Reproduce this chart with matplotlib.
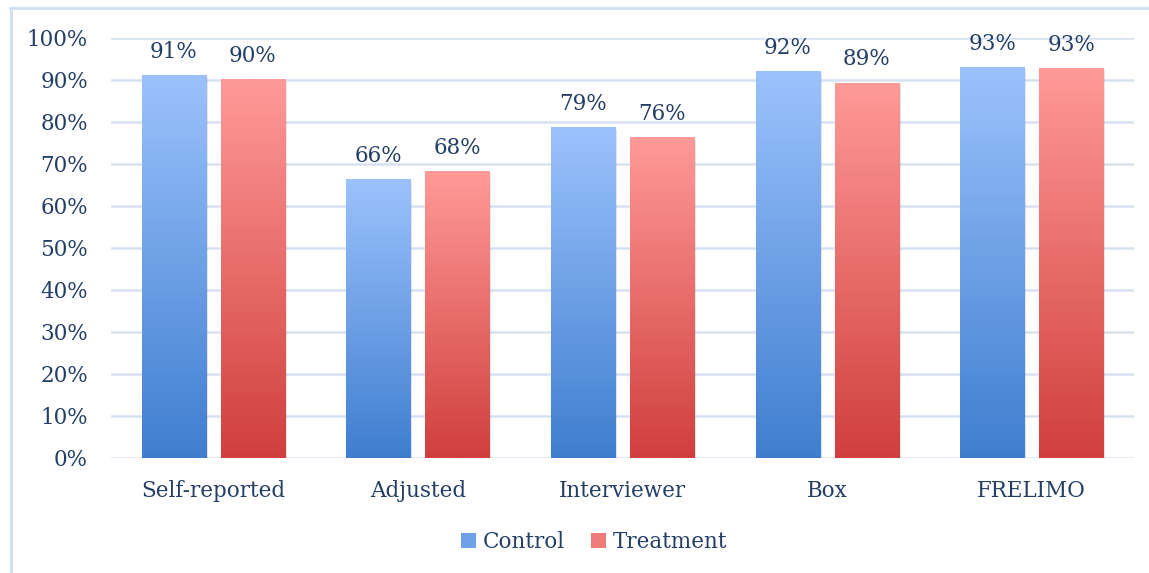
import numpy as np
import matplotlib.pyplot as plt
from matplotlib.patches import Rectangle, Patch
from matplotlib.lines import Line2D
from matplotlib.colors import LinearSegmentedColormap

plt.rcParams["font.family"] = "DejaVu Serif"

categories = ["Self-reported", "Adjusted", "Interviewer", "Box", "FRELIMO"]
control = [91.2, 66.4, 78.8, 92.1, 93.1]
treatment = [90.2, 68.3, 76.4, 89.4, 92.9]
yticks = list(range(0, 101, 10))

txt_color = "#243F66"
blue_cmap = LinearSegmentedColormap.from_list("b", ["#3F7ECF", "#9CC2FD"])
red_cmap = LinearSegmentedColormap.from_list("r", ["#D03F3D", "#FF9A98"])

fig = plt.figure(figsize=(11.49, 5.73), dpi=100)
ax = fig.add_axes([0.0966, 0.2007, 0.8904, 0.733])

x = np.arange(len(categories))
bw = 0.313
gap = 0.073
grad = np.linspace(0, 1, 256).reshape(-1, 1)


def grad_bar(xc, h, cmap):
    x0 = xc - bw / 2
    # soft shadow
    ax.add_patch(Rectangle((x0 + 0.010, -0.6), bw, h, color="#000000",
                           alpha=0.10, lw=0, zorder=2))
    im = ax.imshow(grad, cmap=cmap, aspect="auto", origin="lower",
                   extent=(x0, x0 + bw, 0, h), zorder=3)
    rect = Rectangle((x0, 0), bw, h, transform=ax.transData)
    im.set_clip_path(rect)


for i in range(len(categories)):
    xc = x[i] - bw / 2 - gap / 2
    xt = x[i] + bw / 2 + gap / 2
    grad_bar(xc, control[i], blue_cmap)
    grad_bar(xt, treatment[i], red_cmap)
    ax.text(xc, control[i] + 2.9, f"{round(control[i])}%", ha="center",
            va="bottom", fontsize=15.5, color=txt_color)
    ax.text(xt, treatment[i] + 2.9, f"{round(treatment[i])}%", ha="center",
            va="bottom", fontsize=15.5, color=txt_color)

ax.set_xlim(-0.5, len(categories) - 0.5)
ax.set_ylim(0, 100)
ax.set_yticks(yticks)
ax.set_yticklabels([f"{v}%" for v in yticks])
ax.set_xticks(x)
ax.set_xticklabels(categories)
ax.tick_params(axis="both", length=0, labelsize=15.5, labelcolor=txt_color)
ax.tick_params(axis="y", pad=16.5)
ax.tick_params(axis="x", pad=16)
ax.yaxis.grid(True, color="#D6E2F1", lw=1.8)
ax.set_axisbelow(True)
for s in ax.spines.values():
    s.set_visible(False)

handles = [Patch(facecolor="#6FA1E8", edgecolor="none", label="Control"),
           Patch(facecolor="#EF7C7A", edgecolor="none", label="Treatment")]
fig.legend(handles=handles, loc="center", bbox_to_anchor=(0.517, 0.054), ncol=2,
           frameon=False, fontsize=15.5, labelcolor=txt_color,
           handlelength=0.7, handleheight=0.7, handletextpad=0.3,
           columnspacing=1.2)

# outer frame (only top and left are visible in the crop)
fig.add_artist(Line2D([10 / 1149, 1], [1 - 8 / 573, 1 - 8 / 573],
                      color="#D0DFF1", lw=2))
fig.add_artist(Line2D([11 / 1149, 11 / 1149], [0, 1 - 8 / 573],
                      color="#D0DFF1", lw=2))

plt.savefig("out.png", dpi=100)
